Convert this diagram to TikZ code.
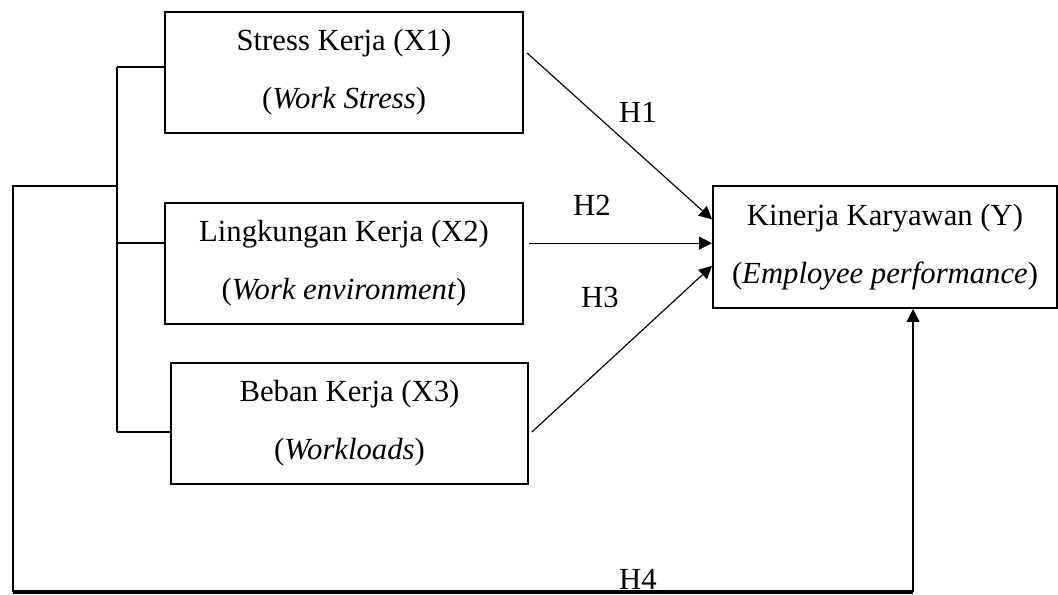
\documentclass[tikz,border=0pt]{standalone}
\usepackage{fontspec}
\setmainfont{Liberation Serif}
\usetikzlibrary{arrows.meta, positioning, calc}

\begin{document}
\begin{tikzpicture}[
  every node/.style={font=\fontsize{12}{22.7}\selectfont},
  vbox/.style={draw, line width=0.8pt, align=center, minimum width=4.92cm, minimum height=1.66cm, inner sep=0pt},
  link/.style={line width=0.45pt},
  arr/.style={line width=0.45pt, -{Triangle[length=5pt, width=5pt]}}
]
  \useasboundingbox (0,0) rectangle (14.537,8.162);

  % variables
  \node[vbox] (x1) at (4.727,7.165) {Stress Kerja (X1) \\ (\textit{Work Stress})};
  \node[vbox] (x2) at (4.727,4.541) {Lingkungan Kerja (X2) \\ (\textit{Work environment})};
  \node[vbox, minimum width=4.905cm] (x3) at (4.802,2.343) {Beban Kerja (X3) \\ (\textit{Workloads})};
  \node[vbox, minimum width=4.727cm, minimum height=1.676cm] (kin) at (12.160,4.768) {Kinerja Karyawan (Y) \\ (\textit{Employee performance})};

  % bracket on the left
  \coordinate (brtop) at (1.608,7.241);
  \coordinate (brmid) at (1.608,5.606);
  \coordinate (br2) at (1.608,4.823);
  \coordinate (brbot) at (1.608,2.226);
  \coordinate (outer) at (0.179,5.606);
  \coordinate (lowleft) at (0.179,0.027);
  \coordinate (lowright) at (12.545,0.027);

  \draw[link] (brtop) -- (brbot);
  \draw[link] (brtop) -- (brtop -| x1.west);
  \draw[link] (br2) -- (br2 -| x2.west);
  \draw[link] (brbot) -- (brbot -| x3.west);
  \draw[link] (brmid) -- (outer) -- (lowleft);
  \draw[line width=1.3pt] (lowleft) -- (lowright);
  \draw[arr] (lowright) -- (lowright |- kin.south);

  % hypotheses
  \draw[arr] ([shift={(0.04,0.27)}]x1.east) -- ([yshift=0.38cm]kin.west);
  \draw[arr] ([shift={(0.07,0.28)}]x2.east) coordinate (h2s) -- (h2s -| kin.west);
  \draw[arr] ([shift={(0.04,-0.117)}]x3.east) -- ([yshift=-0.26cm]kin.west);

  \node[anchor=base] (h1) at (8.766,6.472) {H1};
  \node[anchor=base] (h2) at (8.134,5.194) {H2};
  \node[anchor=base] (h3) at (8.244,3.930) {H3};
  \node[anchor=base] (h4) at (8.766,0.060) {H4};
\end{tikzpicture}
\end{document}
